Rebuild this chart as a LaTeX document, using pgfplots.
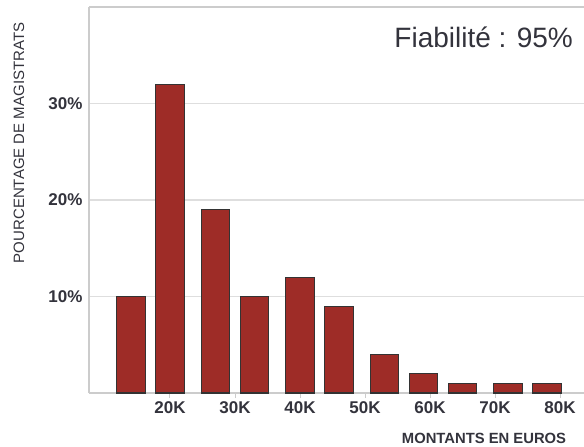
\documentclass[border=0pt]{standalone}
\usepackage{fontspec}
\setmainfont{Liberation Sans}
\usepackage{pgfplots}
\pgfplotsset{compat=1.18}
\definecolor{barred}{RGB}{158,44,39}
\definecolor{txt}{RGB}{51,51,60}
\definecolor{gridc}{RGB}{222,222,222}
\definecolor{axc}{RGB}{204,204,204}
\begin{document}
\begin{tikzpicture}
\begin{axis}[
  scale only axis,
  width=495pt, height=386pt,
  xmin=7.54, xmax=83.69,
  ymin=0, ymax=40,
  axis lines=left,
  axis line style={-, draw=axc, line width=1.5pt},
  ymajorgrids,
  grid style={draw=gridc, line width=1.5pt},
  xtick={20,30,40,50,60,70,80},
  xticklabels={20K,30K,40K,50K,60K,70K,80K},
  ytick={10,20,30},
  yticklabels={10\%,20\%,30\%},
  tick align=outside,
  major tick length=5pt,
  xtick style={draw=axc, line width=1pt},
  ytick style={draw=none},
  ticklabel style={font=\fontsize{17}{19}\selectfont\bfseries, text=txt},
  yticklabel style={xshift=2pt},
  xlabel={MONTANTS EN EUROS},
  ylabel={POURCENTAGE DE MAGISTRATS},
  every axis x label/.style={at={(rel axis cs:0.798,0)}, anchor=center, yshift=-45pt, font=\fontsize{14.8}{16}\selectfont\bfseries, text=txt},
  every axis y label/.style={at={(rel axis cs:0,0.648)}, anchor=center, xshift=-70pt, rotate=90, font=\fontsize{15}{16}\selectfont, text=txt},
  clip=false,
]
\draw[draw=axc, line width=1.5pt] (rel axis cs:0,1) -- (rel axis cs:1,1);
\addplot[ybar, bar width=4.35, fill=barred, draw=black!80, line width=1.2pt]
  coordinates {(14,10) (20,32) (27,19) (33,10) (40,12) (46,9) (53,4) (59,2) (65,1) (72,1) (78,1)};
\node[anchor=base east, inner sep=0pt, font=\fontsize{28}{32}\selectfont, text=txt] at (rel axis cs:0.978,0.896) {Fiabilité : 95\%};
\end{axis}
\pgfresetboundingbox
\path[use as bounding box] ([xshift=-89pt,yshift=-53pt]current axis.south west) rectangle ([yshift=7pt]current axis.north east);
\end{tikzpicture}
\end{document}
